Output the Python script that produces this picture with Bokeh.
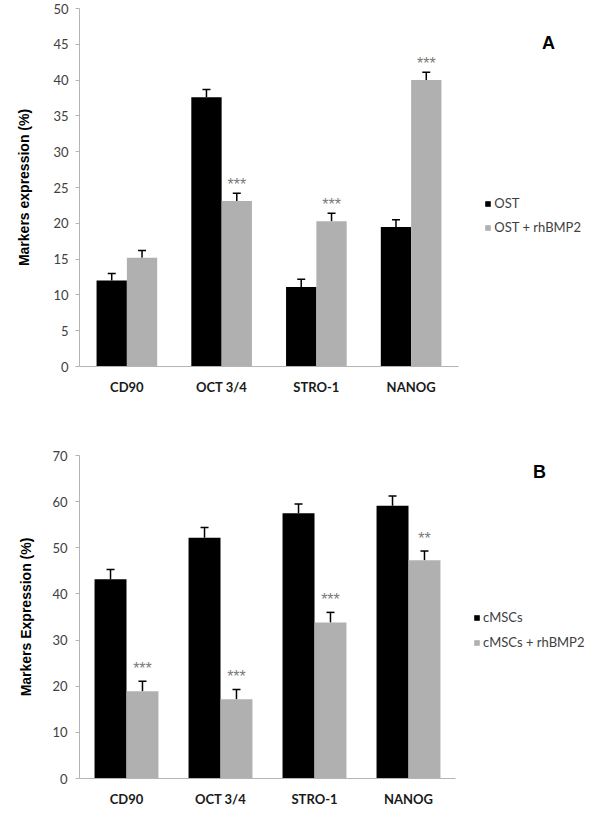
from bokeh.plotting import figure
from bokeh.layouts import column
from bokeh.models import (ColumnDataSource, Range1d, FixedTicker,
                          Whisker, Legend, LegendItem, Label, TeeHead)
from bokeh.transform import dodge
from bokeh.core.properties import value
from bokeh.embed import file_html
from bokeh.resources import INLINE

markers = ["CD90", "OCT 3/4", "STRO-1", "NANOG"]

# Panel A
ost = [12.0, 37.6, 11.1, 19.5]
ost_err = [1.0, 1.1, 1.1, 1.0]
ost_bmp = [15.2, 23.1, 20.3, 40.0]
ost_bmp_err = [1.0, 1.1, 1.1, 1.1]
ost_bmp_sig = ["", "***", "***", "***"]
a_ticks = [0, 5, 10, 15, 20, 25, 30, 35, 40, 45, 50]

# Panel B
cmsc = [43.2, 52.2, 57.5, 59.1]
cmsc_err = [2.1, 2.2, 2.0, 2.1]
cmsc_bmp = [18.9, 17.2, 33.8, 47.3]
cmsc_bmp_err = [2.2, 2.1, 2.2, 2.0]
cmsc_bmp_sig = ["***", "***", "***", "**"]
b_ticks = [0, 10, 20, 30, 40, 50, 60, 70]

BLACK = "#000000"
GRAY = "#b0b0b0"
AXIS = "#b4b4b4"
TXT = "#404040"


def panel(v1, e1, v2, e2, sig, names, ticks, ytitle, letter, geo):
    (bl, fw, axis_px, bt, fh, bb, half, lab_std, title_std,
     leg_px, leg_sp, let_px, star_off) = geo
    ncat = len(markers)
    cat_px = axis_px / ncat
    xend = fw / cat_px
    ymax = ticks[-1]
    p = figure(x_range=Range1d(0, xend), y_range=Range1d(0, ymax),
               frame_width=fw, frame_height=fh,
               min_border_left=bl, min_border_right=0,
               min_border_top=bt, min_border_bottom=bb,
               output_backend="svg", toolbar_location=None)
    p.outline_line_color = None
    p.xgrid.grid_line_color = None
    p.ygrid.grid_line_color = None

    centers = [i + 0.5 for i in range(ncat)]
    src = ColumnDataSource(dict(x=centers, v1=v1, v2=v2,
                                u1=[a + b for a, b in zip(v1, e1)],
                                u2=[a + b for a, b in zip(v2, e2)],
                                sig=sig))
    x1 = dodge("x", -half)
    x2 = dodge("x", half)
    bw = 2 * half
    r1 = p.vbar(x=x1, top="v1", width=bw, source=src, fill_color=BLACK, line_color=None)
    r2 = p.vbar(x=x2, top="v2", width=bw, source=src, fill_color=GRAY, line_color=None)

    for xx, lo, up in ((x1, "v1", "u1"), (x2, "v2", "u2")):
        w = Whisker(source=src, base=xx, lower=lo, upper=up, dimension="height",
                    lower_head=None,
                    upper_head=TeeHead(size=8, line_width=1.5, line_color=BLACK),
                    line_width=1.5, line_color=BLACK)
        p.add_layout(w)

    p.text(x=x2, y="u2", text="sig", source=src, y_offset=star_off,
           text_align="center", text_baseline="middle", text_color="#7a7a7a",
           text_font=value("Liberation Sans"), text_font_size="16px")

    ya = p.yaxis[0]
    ya.ticker = FixedTicker(ticks=ticks)
    ya.axis_line_color = AXIS
    ya.major_tick_line_color = AXIS
    ya.major_tick_in = 0
    ya.major_tick_out = 4
    ya.minor_tick_line_color = None
    ya.major_label_standoff = lab_std
    ya.major_label_text_font = "Lato"
    ya.major_label_text_font_size = "13px"
    ya.major_label_text_color = TXT
    ya.axis_label = ytitle
    ya.axis_label_text_font = "Liberation Sans"
    ya.axis_label_text_font_size = "14px"
    ya.axis_label_text_font_style = "bold"
    ya.axis_label_text_color = BLACK
    ya.axis_label_standoff = title_std

    xa = p.xaxis[0]
    xa.bounds = (0, ncat)
    xa.ticker = FixedTicker(ticks=centers)
    xa.major_label_overrides = {c: m for c, m in zip(centers, markers)}
    xa.axis_line_color = AXIS
    xa.major_tick_line_color = None
    xa.minor_tick_line_color = None
    xa.major_label_standoff = 6
    xa.major_label_text_font = "Lato"
    xa.major_label_text_font_size = "13px"
    xa.major_label_text_font_style = "bold"
    xa.major_label_text_color = "#1a1a1a"

    leg = Legend(items=[LegendItem(label=names[0], renderers=[r1]),
                        LegendItem(label=names[1], renderers=[r2])],
                 location=leg_px, orientation="vertical")
    leg.border_line_color = None
    leg.background_fill_alpha = 0
    leg.padding = 0
    leg.margin = 0
    leg.spacing = leg_sp
    leg.glyph_width = 7
    leg.glyph_height = 7
    leg.label_height = 14
    leg.label_standoff = 3
    leg.label_text_font = "Lato"
    leg.label_text_font_size = "13px"
    leg.label_text_color = TXT
    leg.label_text_baseline = "middle"
    p.add_layout(leg)

    # panel letter, placed via pixel offsets converted to data units
    lx = let_px[0] / cat_px
    ly = ymax * let_px[1] / fh
    p.add_layout(Label(x=lx, y=ly, text=letter, text_align="center",
                       text_baseline="middle",
                       text_font="Liberation Sans", text_font_size="18px",
                       text_font_style="bold", text_color=BLACK))
    return p


pa = panel(ost, ost_err, ost_bmp, ost_bmp_err, ost_bmp_sig,
           ["OST", "OST + rhBMP2"], a_ticks, "Markers expression (%)", "A",
           (70, 518, 379, 8, 358, 46, 0.16, 7, 18, (417, 131), 8, (469, 324), -9))
pb = panel(cmsc, cmsc_err, cmsc_bmp, cmsc_bmp_err, cmsc_bmp_sig,
           ["cMSCs", "cMSCs + rhBMP2"], b_ticks, "Markers Expression (%)", "B",
           (79, 509, 376, 43, 323, 35, 0.17, 8, 15, (394, 128), 9, (460, 307), -13))

layout = column(pa, pb, spacing=0)
open("out.html", "w").write(file_html(layout, INLINE))
